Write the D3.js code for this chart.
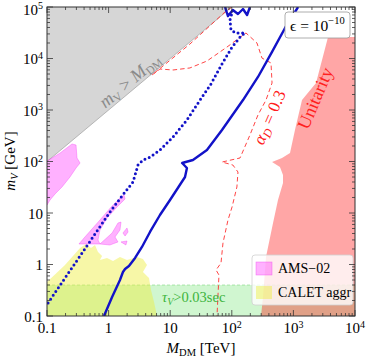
<!DOCTYPE html>
<html>
<head>
<meta charset="utf-8">
<script src="https://cdn.jsdelivr.net/npm/d3@7"></script>
<style>
  body { margin: 0; background: #fff; }
  svg { display: block; }
  text { font-family: "Liberation Serif", "DejaVu Serif", serif; }
</style>
</head>
<body>
<svg id="chart" width="366" height="359"></svg>
<script>
// every point is [M_DM in TeV, m_V in GeV]
const xDomain = [0.1, 1e4]
const yDomain = [0.1, 1e5]
const xTickLabels = ['0.1', '1', '10', '10^2', '10^3', '10^4']
const yTickLabels = ['0.1', '1', '10', '10^2', '10^3', '10^4', '10^5']

const grayEdge = [[0.1, 100], [100, 1e5]]
const tauLimit = 0.4

const unitarity = [
  [1e4, 26100], [3650, 26100], [2330, 3340], [1380, 1560], [1060, 409], [881, 146],
  [653, 117], [450, 97.7], [605, 78.2], [678, 54.7], [678, 38.3], [562, 17.9],
  [467, 6.4], [359, 1.4], [321, 0.234], [298, 0.1], [1e4, 0.1],
]

const calet = [
  [0.1, 0.1], [0.1, 0.457], [0.196, 0.977], [0.344, 2.09], [0.43, 2.5], [0.518, 2.09],
  [0.601, 2.39], [0.673, 1.75], [0.782, 1.46], [0.724, 1.22], [0.942, 1.34], [1.18, 1.17],
  [1.53, 1.4], [1.99, 1.22], [2.89, 1.4], [3.61, 1.28], [4.2, 0.977], [3.61, 0.715],
  [4.53, 0.547], [4.88, 0.32], [5.46, 0.187], [6.11, 0.1],
]

const amsUpper = [
  [0.1, 102], [0.163, 146], [0.255, 219], [0.296, 209], [0.307, 117], [0.344, 93.5],
  [0.296, 74.8], [0.236, 50], [0.175, 32], [0.135, 23.4], [0.112, 17.9], [0.1, 14.3],
]
const amsStrip = [
  [0.33, 2.5], [0.399, 3.27], [0.724, 7.31], [1.14, 13.7], [1.53, 19.5], [1.78, 22.4],
  [1.85, 18.7], [1.37, 13.1], [0.942, 8.0], [0.724, 4.68], [0.673, 2.99], [0.724, 2.5],
]
const amsPatchA = [
  [0.724, 2.5], [1.14, 4.09], [1.42, 6.4], [1.59, 6.68], [1.53, 4.68], [1.27, 3.42],
  [1.42, 2.74], [1.05, 2.39],
]
const amsPatchB = [[1.71, 4.09], [1.99, 5.12], [2.07, 4.28], [1.85, 3.57]]
const amsPatchC = [[1.59, 2.74], [1.99, 2.86], [1.91, 2.39]]

const alphaD = [
  [100, 1e5], [77.6, 80000], [20.9, 19100], [5.07, 4790], [6.82, 6250], [11.1, 5980],
  [20.9, 6550], [39.5, 8930], [83.6, 16700], [170, 31300], [256, 20000], [309, 10200],
  [433, 8180], [450, 3340], [359, 1560], [266, 800], [197, 327], [136, 117], [69.3, 97.7],
  [104, 85.5], [126, 62.5], [121, 32], [101, 13.1], [86.7, 7.31], [71.9, 2.61],
  [66.8, 1.07], [55.5, 0.782], [61.9, 0.625], [57.5, 0.1],
]

const solidMain = [
  [0.841, 0.1], [1.14, 0.234], [1.53, 0.5], [1.71, 0.715], [1.85, 0.818], [2.14, 0.935],
  [2.69, 1.34], [3.48, 2.19], [4.7, 4.28], [6.82, 9.14], [9.93, 17.9], [17.4, 50],
  [18.7, 74.8], [15.6, 93.5], [23.4, 107], [39.5, 167], [69.3, 409], [152, 1560],
  [266, 4380], [450, 13400], [731, 39100], [1190, 1e5],
]
const solidTop = [
  [77.6, 1e5], [86.7, 66800], [104, 87500], [126, 73100], [152, 91400], [177, 70000], [197, 1e5],
]
const dotted = [
  [0.104, 0.179], [0.196, 0.547], [0.344, 1.46], [0.601, 3.91], [1.05, 10.4], [1.65, 21.4],
  [2.49, 40], [3.0, 85.5], [3.61, 107], [4.7, 122], [6.82, 167], [11.1, 299], [18.7, 640],
  [30.5, 1560], [45.9, 3200], [69.3, 7820], [101, 16700], [141, 27400], [164, 31300],
  [117, 31300], [97, 35700], [93.5, 56000], [104, 87500], [113, 1e5],
]

const pLeft = 47, pRight = 355, pTop = 7, pBottom = 316
const x = d3.scaleLog().domain(xDomain).range([pLeft, pRight])
const y = d3.scaleLog().domain(yDomain).range([pBottom, pTop])

const svg = d3.select('#chart')
svg.append('defs').append('clipPath').attr('id', 'plot')
  .append('rect').attr('x', pLeft).attr('y', pTop)
  .attr('width', pRight - pLeft).attr('height', pBottom - pTop)

const g = svg.append('g').attr('clip-path', 'url(#plot)')
const line = d3.line().x(d => x(d[0])).y(d => y(d[1]))
const area = pts => line(pts) + 'Z'

// m_V > M_DM
g.append('path')
  .attr('d', area([grayEdge[0], grayEdge[1], [xDomain[0], yDomain[1]]]))
  .attr('fill', '#d6d6d6')
g.append('path').attr('d', line(grayEdge))
  .attr('fill', 'none').attr('stroke', '#a8a8a8').attr('stroke-width', 0.8)

// tau_V band
g.append('rect')
  .attr('x', pLeft).attr('width', pRight - pLeft)
  .attr('y', y(tauLimit)).attr('height', pBottom - y(tauLimit))
  .attr('fill', 'rgba(120,230,120,0.35)')
g.append('line')
  .attr('x1', pLeft).attr('x2', pRight).attr('y1', y(tauLimit)).attr('y2', y(tauLimit))
  .attr('stroke', 'rgba(80,200,80,0.5)').attr('stroke-width', 0.8)
  .attr('stroke-dasharray', '3 2')

g.append('path').attr('d', area(calet))
  .attr('fill', 'rgba(238,238,60,0.45)')

g.selectAll('path.ams')
  .data([amsUpper, amsStrip, amsPatchA, amsPatchB, amsPatchC])
  .join('path').attr('class', 'ams')
  .attr('d', area)
  .attr('fill', 'rgba(255,60,255,0.4)')
  .attr('stroke', 'rgba(240,60,240,0.6)').attr('stroke-width', 0.6)

g.append('path').attr('d', area(unitarity))
  .attr('fill', 'rgba(255,0,0,0.35)')

g.append('path').attr('d', line(alphaD))
  .attr('fill', 'none').attr('stroke', '#ff3030').attr('stroke-width', 0.9)
  .attr('stroke-dasharray', '4.5 3')

g.selectAll('path.solid').data([solidMain, solidTop])
  .join('path').attr('class', 'solid')
  .attr('d', line)
  .attr('fill', 'none').attr('stroke', '#1212c8').attr('stroke-width', 2.4)
  .attr('stroke-linejoin', 'round')

g.append('path').attr('d', line(dotted))
  .attr('fill', 'none').attr('stroke', '#1212c8').attr('stroke-width', 3)
  .attr('stroke-linecap', 'round').attr('stroke-dasharray', '0 4.6')

// in-plot labels
const mv = svg.append('text')
  .attr('transform', 'translate(131,82) rotate(-39.9)')
  .attr('text-anchor', 'middle').attr('dominant-baseline', 'middle')
  .attr('font-size', 18).attr('fill', '#8a8a8a')
mv.append('tspan').attr('font-style', 'italic').text('m')
mv.append('tspan').attr('font-size', 11.5).attr('dy', 4).text('V')
mv.append('tspan').attr('dy', -4).text(' > ')
mv.append('tspan').attr('font-style', 'italic').text('M')
mv.append('tspan').attr('font-size', 11.5).attr('dy', 4).text('DM')

svg.append('text')
  .attr('transform', 'translate(317,99) rotate(-67)')
  .attr('text-anchor', 'middle').attr('dominant-baseline', 'middle')
  .attr('font-size', 18).attr('fill', '#ff2020')
  .text('Unitarity')

const ad = svg.append('text')
  .attr('transform', 'translate(271,118) rotate(-66.5)')
  .attr('text-anchor', 'middle').attr('dominant-baseline', 'middle')
  .attr('font-size', 17).attr('fill', '#ff2020')
ad.append('tspan').attr('font-style', 'italic').text('α')
ad.append('tspan').attr('font-style', 'italic').attr('font-size', 12).attr('dy', 4).text('D')
ad.append('tspan').attr('dy', -4).text(' = 0.3')

const tau = svg.append('text').attr('x', 162).attr('y', 302)
  .attr('font-size', 14.5).attr('fill', '#3cb43c')
tau.append('tspan').attr('font-style', 'italic').text('τ')
tau.append('tspan').attr('font-style', 'italic').attr('font-size', 10).attr('dy', 3).text('V')
tau.append('tspan').attr('dy', -3).text('>0.03sec')

// epsilon box
svg.append('rect').attr('x', 285).attr('y', 12).attr('width', 65).attr('height', 26)
  .attr('rx', 3).attr('fill', '#fff').attr('stroke', '#999').attr('stroke-width', 0.8)
const eps = svg.append('text').attr('x', 290).attr('y', 31).attr('font-size', 15.5)
eps.append('tspan').text('ϵ = 10')
eps.append('tspan').attr('font-size', 10.5).attr('dy', -7).text('−10')

// legend
const legendItems = [
  { name: 'AMS−02', fill: 'rgba(255,60,255,0.4)', stroke: 'rgba(240,60,240,0.6)' },
  { name: 'CALET aggr', fill: 'rgba(238,238,60,0.45)', stroke: 'none' },
]
svg.append('rect').attr('x', 252).attr('y', 255).attr('width', 101).attr('height', 50)
  .attr('rx', 3).attr('fill', 'rgba(255,255,255,0.8)').attr('stroke', '#d0d0d0').attr('stroke-width', 0.8)
const lg = svg.selectAll('g.leg').data(legendItems).join('g').attr('class', 'leg')
  .attr('transform', (d, i) => `translate(256,${262 + i * 24})`)
lg.append('rect').attr('width', 16).attr('height', 13)
  .attr('fill', d => d.fill).attr('stroke', d => d.stroke).attr('stroke-width', 0.6)
lg.append('text').attr('x', 22).attr('y', 11).attr('font-size', 14).text(d => d.name)

// frame and ticks
svg.append('rect').attr('x', pLeft).attr('y', pTop)
  .attr('width', pRight - pLeft).attr('height', pBottom - pTop)
  .attr('fill', 'none').attr('stroke', '#333').attr('stroke-width', 1)

const isMajor = v => Math.abs(Math.log10(v) - Math.round(Math.log10(v))) < 1e-6
const ticks = svg.append('g').attr('stroke', '#333').attr('stroke-width', 0.8)
x.ticks().forEach(v => {
  const len = isMajor(v) ? 6 : 3
  const px = x(v)
  ticks.append('line').attr('x1', px).attr('x2', px).attr('y1', pBottom).attr('y2', pBottom - len)
  ticks.append('line').attr('x1', px).attr('x2', px).attr('y1', pTop).attr('y2', pTop + len)
})
y.ticks().forEach(v => {
  const len = isMajor(v) ? 6 : 3
  const py = y(v)
  ticks.append('line').attr('y1', py).attr('y2', py).attr('x1', pLeft).attr('x2', pLeft + len)
  ticks.append('line').attr('y1', py).attr('y2', py).attr('x1', pRight).attr('x2', pRight - len)
})

function powerLabel(sel, label) {
  const parts = label.split('^')
  sel.append('tspan').text(parts[0])
  if (parts[1]) sel.append('tspan').attr('font-size', 10).attr('dy', -5.5).text(parts[1])
}

const xMajor = x.ticks().filter(isMajor)
xMajor.forEach((v, i) => {
  const t = svg.append('text').attr('x', x(v)).attr('y', 333)
    .attr('text-anchor', 'middle').attr('font-size', 15)
  powerLabel(t, xTickLabels[i])
})
const yMajor = y.ticks().filter(isMajor)
yMajor.forEach((v, i) => {
  const t = svg.append('text').attr('x', 43)
    .attr('y', Math.max(y(v) + 5.5, 14.5))
    .attr('text-anchor', 'end').attr('font-size', 15)
  powerLabel(t, yTickLabels[i])
})

// axis titles
const xt = svg.append('text').attr('x', 201).attr('y', 353)
  .attr('text-anchor', 'middle').attr('font-size', 15)
xt.append('tspan').attr('font-style', 'italic').text('M')
xt.append('tspan').attr('font-size', 10.5).attr('dy', 3).text('DM')
xt.append('tspan').attr('dy', -3).text(' [TeV]')

const yt = svg.append('text').attr('transform', 'translate(15,161) rotate(-90)')
  .attr('text-anchor', 'middle').attr('font-size', 15)
yt.append('tspan').attr('font-style', 'italic').text('m')
yt.append('tspan').attr('font-style', 'italic').attr('font-size', 10.5).attr('dy', 3).text('V')
yt.append('tspan').attr('dy', -3).text(' [GeV]')
</script>
</body>
</html>
